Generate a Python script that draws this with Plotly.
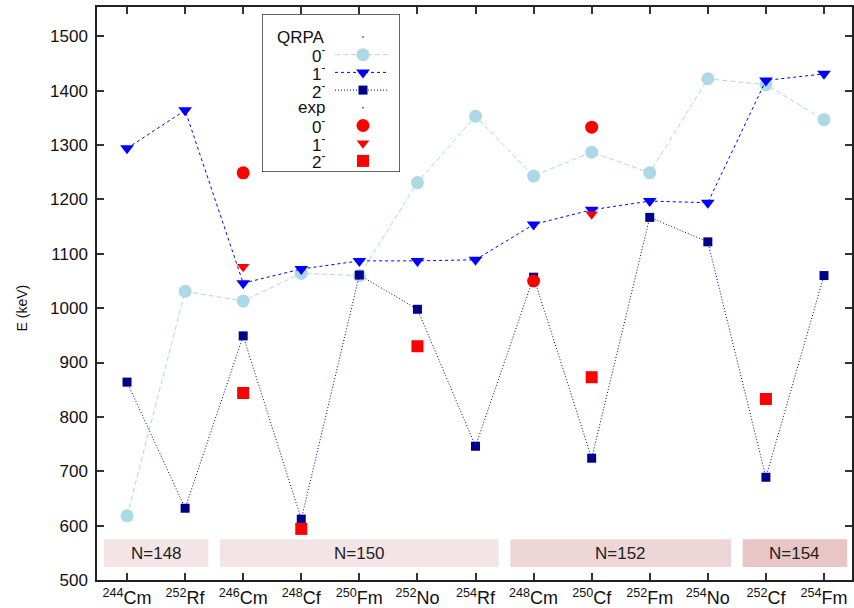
import plotly.graph_objects as go

# Nuclei along the x axis
nuclei = ["<sup>244</sup>Cm", "<sup>252</sup>Rf", "<sup>246</sup>Cm", "<sup>248</sup>Cf",
          "<sup>250</sup>Fm", "<sup>252</sup>No", "<sup>254</sup>Rf", "<sup>248</sup>Cm",
          "<sup>250</sup>Cf", "<sup>252</sup>Fm", "<sup>254</sup>No", "<sup>252</sup>Cf",
          "<sup>254</sup>Fm"]

# QRPA octupole energies (keV)
qrpa_0 = [618, 1031, 1013, 1064, 1060, 1231, 1353, 1243, 1287, 1249, 1422, 1411, 1347]
qrpa_1 = [1294, 1364, 1046, 1072, 1087, 1087, 1089, 1154, 1181, 1197, 1194, 1419, 1431]
qrpa_2 = [864, 632, 949, 612, 1061, 998, 746, 1057, 724, 1167, 1122, 689, 1060]

# Experimental energies (keV); None where not measured
exp_0 = [None, None, 1249, None, None, None, None, 1050, 1333, None, None, None, None]
exp_1 = [None, None, 1076, None, None, None, None, None, 1173, None, None, None, None]
exp_2 = [None, None, 844, 594, None, 930, None, None, 873, None, None, 833, None]

# Isotone groups: label, first index, last index
groups = [("N=148", 0, 1), ("N=150", 2, 6), ("N=152", 7, 10), ("N=154", 11, 12)]
group_colors = ["#f3e5e5", "#f3e5e5", "#efd6d6", "#e8c6c6"]
band_lo, band_hi = 524, 575

FONT = "Liberation Sans, Arial, sans-serif"
xs = list(range(len(nuclei)))

styles = {
    "q0": dict(mode="lines+markers", line=dict(color="#add8e6", width=1, dash="5px,3px"),
               marker=dict(symbol="circle", size=13, color="#add8e6")),
    "q1": dict(mode="lines+markers", line=dict(color="#0000ff", width=1, dash="3px,3px"),
               marker=dict(symbol="triangle-down", size=12, color="#0000ff")),
    "q2": dict(mode="lines+markers", line=dict(color="#00008b", width=1, dash="1px,2px"),
               marker=dict(symbol="square", size=9, color="#00008b")),
    "e0": dict(mode="markers", marker=dict(symbol="circle", size=13, color="#ff0000")),
    "e1": dict(mode="markers", marker=dict(symbol="triangle-down", size=11, color="#ff0000")),
    "e2": dict(mode="markers", marker=dict(symbol="square", size=12, color="#ff0000")),
}

fig = go.Figure()

for key, ys in [("q0", qrpa_0), ("q1", qrpa_1), ("q2", qrpa_2),
                ("e0", exp_0), ("e1", exp_1), ("e2", exp_2)]:
    fig.add_trace(go.Scatter(x=xs, y=ys, showlegend=False, hoverinfo="skip", **styles[key]))

# Isotone bands with labels
shapes = []
annotations = []
for (label, i0, i1), col in zip(groups, group_colors):
    shapes.append(dict(type="rect", xref="x", yref="y", x0=i0 - 0.4, x1=i1 + 0.4,
                       y0=band_lo, y1=band_hi, fillcolor=col, line=dict(width=0),
                       layer="below"))
    annotations.append(dict(x=(i0 + i1) / 2, y=(band_lo + band_hi) / 2, xref="x", yref="y",
                            text=label, showarrow=False,
                            font=dict(size=17, color="#222222", family=FONT)))

# Key box drawn on its own pixel-scaled axes
key_rows = [("QRPA", None), ("0<sup>-</sup>", "q0"), ("1<sup>-</sup>", "q1"),
            ("2<sup>-</sup>", "q2"), ("exp", None), ("0<sup>-</sup>", "e0"),
            ("1<sup>-</sup>", "e1"), ("2<sup>-</sup>", "e2")]
row0, row_step = 37, 17.7
for i, (label, key) in enumerate(key_rows):
    ry = row0 + i * row_step
    annotations.append(dict(x=326, y=ry, xref="x2", yref="y2", text=label, showarrow=False,
                            xanchor="right", yanchor="middle", height=17, borderpad=0,
                            font=dict(size=17, color="#111111", family=FONT)))
    if key is None:
        fig.add_trace(go.Scatter(x=[363], y=[ry], mode="markers", xaxis="x2", yaxis="y2",
                                 marker=dict(size=1.5, color="black"), showlegend=False,
                                 hoverinfo="skip"))
    elif key.startswith("q"):
        st = styles[key]
        fig.add_trace(go.Scatter(x=[335, 388], y=[ry, ry], mode="lines", xaxis="x2", yaxis="y2",
                                 line=st["line"], showlegend=False, hoverinfo="skip"))
        fig.add_trace(go.Scatter(x=[363], y=[ry], mode="markers", xaxis="x2", yaxis="y2",
                                 marker=st["marker"], showlegend=False, hoverinfo="skip"))
    else:
        fig.add_trace(go.Scatter(x=[363], y=[ry], mode="markers", xaxis="x2", yaxis="y2",
                                 marker=styles[key]["marker"], showlegend=False,
                                 hoverinfo="skip"))

shapes.append(dict(type="rect", xref="x2", yref="y2", x0=262, x1=400, y0=14, y1=172,
                   line=dict(color="#333333", width=1.5), fillcolor="white", layer="below"))

# Y-axis title
annotations.append(dict(x=-0.113, y=0.475, xref="paper", yref="paper", text="E (keV)",
                        textangle=-90, showarrow=False,
                        font=dict(size=14, color="#111111", family=FONT)))

axis_common = dict(showgrid=False, zeroline=False, showline=True, linecolor="#222222",
                   linewidth=1.5, mirror="allticks", ticks="inside", ticklen=7,
                   tickcolor="#333333", tickwidth=1.5)

L, R, T, B = 97, 2, 7, 28
W, H = 854, 608
pw, ph = W - L - R, H - T - B

fig.update_layout(
    width=W, height=H,
    margin=dict(l=L, r=R, t=T, b=B, autoexpand=False),
    paper_bgcolor="white", plot_bgcolor="white",
    font=dict(family=FONT, size=16, color="#111111"),
    xaxis=dict(range=[-0.517, 12.482], tickmode="array", tickvals=xs, ticktext=nuclei,
               automargin=False, ticklabelstandoff=1,
               tickfont=dict(size=18, color="#111111", family=FONT), **axis_common),
    yaxis=dict(range=[500, 1554], tickmode="array", tickvals=list(range(500, 1501, 100)),
               automargin=False, ticklabelstandoff=4,
               tickfont=dict(size=17, color="#111111", family=FONT), **axis_common),
    xaxis2=dict(domain=[(262 - L) / pw, (400 - L) / pw], range=[262, 400], anchor="y2",
                visible=False, fixedrange=True),
    yaxis2=dict(domain=[(H - B - 172) / ph, (H - B - 14) / ph], range=[172, 14], anchor="x2",
                visible=False, fixedrange=True),
    shapes=shapes,
    annotations=annotations,
    showlegend=False,
)

fig.write_html("out.html")
